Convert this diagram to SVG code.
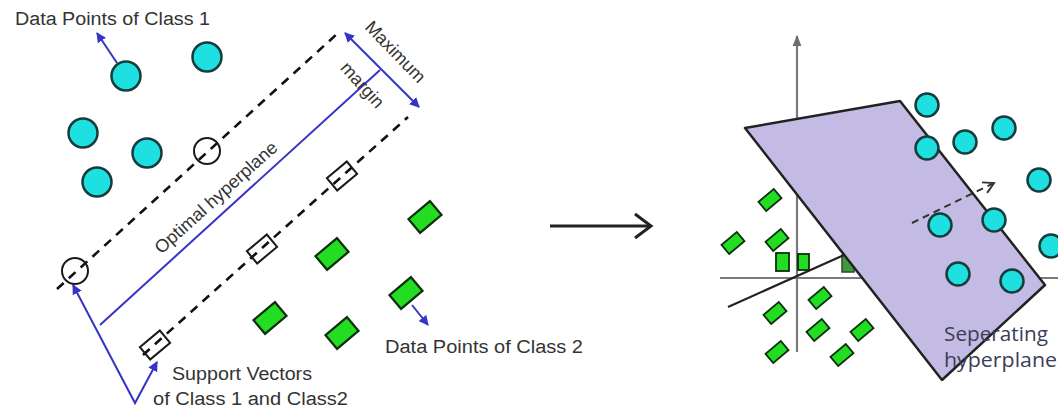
<svg xmlns="http://www.w3.org/2000/svg" width="1058" height="412" viewBox="0 0 1058 412">
<style>
.lbl{font-family:"Liberation Sans",Arial,sans-serif;fill:#333333;font-size:18px}
.c1{fill:#1fe0e0;stroke:#173c3c;stroke-width:2.5}
.sv{fill:none;stroke:#1a1a1a;stroke-width:2}
.g2{fill:#22dd22;stroke:#0c2e0c;stroke-width:2.2}
.g2s{fill:#22dd22;stroke:#0c2e0c;stroke-width:1.8}
.dash{stroke:#111;stroke-width:2.6;stroke-dasharray:9 7;fill:none}
.blue{stroke:#3434c6;stroke-width:2;fill:none}
.axis{stroke:#7a7a7a;stroke-width:2.2;fill:none}
.hp{font-family:"Open Sans","Noto Sans",sans-serif;font-size:20px;fill:#3c3c58}
</style>
<defs>
<marker id="ab" viewBox="0 0 10 10" refX="9" refY="5" markerWidth="5" markerHeight="5" orient="auto-start-reverse" markerUnits="strokeWidth">
<path d="M0,0 L10,5 L0,10 z" fill="#3434c6"/>
</marker>
<marker id="ag" viewBox="0 0 10 10" refX="9" refY="5" markerWidth="5" markerHeight="5" orient="auto" markerUnits="strokeWidth">
<path d="M0,1 L10,5 L0,9 z" fill="#6e6e6e"/>
</marker>
<marker id="ad" viewBox="0 0 12 12" refX="10" refY="6" markerWidth="7" markerHeight="7" orient="auto" markerUnits="strokeWidth">
<path d="M1,1 L10,6 L1,11" fill="none" stroke="#333" stroke-width="1.6"/>
</marker>
</defs>
<rect width="1058" height="412" fill="#ffffff"/>

<g id="connectors">
<line class="dash" x1="57" y1="289" x2="338" y2="33"/>
<line class="dash" x1="143" y1="355" x2="408" y2="117"/>
<line class="blue" x1="100" y1="325" x2="380" y2="70"/>
<line class="blue" x1="345" y1="33" x2="419" y2="107" marker-start="url(#ab)" marker-end="url(#ab)"/>
<line class="blue" x1="117" y1="63" x2="97" y2="33" marker-end="url(#ab)"/>
<line class="blue" x1="412" y1="305" x2="428" y2="325" marker-end="url(#ab)"/>
<polyline class="blue" points="73,285 135,403 157,362" marker-start="url(#ab)" marker-end="url(#ab)"/>
<line x1="550" y1="226" x2="650" y2="226" stroke="#222" stroke-width="3"/>
<polyline points="635,214 651,226 635,238" fill="none" stroke="#222" stroke-width="3"/>
</g>

<g id="class1-points">
<circle class="c1" cx="126" cy="76" r="14.5"/>
<circle class="c1" cx="207" cy="57" r="14.5"/>
<circle class="c1" cx="83" cy="133" r="14.5"/>
<circle class="c1" cx="147" cy="153" r="14.5"/>
<circle class="c1" cx="97" cy="182" r="14.5"/>
</g>
<g id="support-vectors">
<circle class="sv" cx="207" cy="151" r="13"/>
<circle class="sv" cx="75" cy="271" r="13"/>
<rect class="sv" x="-13" y="-8" width="26" height="16" transform="translate(342,176) rotate(-40)"/>
<rect class="sv" x="-13" y="-8" width="26" height="16" transform="translate(262,249) rotate(-40)"/>
<rect class="sv" x="-13" y="-8" width="26" height="16" transform="translate(155,345) rotate(-40)"/>
</g>
<g id="class2-points">
<rect class="g2" x="-14" y="-9" width="28" height="18" transform="translate(425,217) rotate(-40)"/>
<rect class="g2" x="-14" y="-9" width="28" height="18" transform="translate(332,254) rotate(-40)"/>
<rect class="g2" x="-14" y="-9" width="28" height="18" transform="translate(270,318) rotate(-40)"/>
<rect class="g2" x="-14" y="-9" width="28" height="18" transform="translate(342,333) rotate(-40)"/>
<rect class="g2" x="-14" y="-9" width="28" height="18" transform="translate(406,293) rotate(-40)"/>
</g>
<g id="left-labels">
<text class="lbl" x="15" y="25" textLength="195" lengthAdjust="spacingAndGlyphs">Data Points of Class 1</text>
<text class="lbl" x="385" y="353" textLength="198" lengthAdjust="spacingAndGlyphs">Data Points of Class 2</text>
<text class="lbl" x="172" y="380" textLength="140" lengthAdjust="spacingAndGlyphs">Support Vectors</text>
<text class="lbl" x="153" y="405" textLength="195" lengthAdjust="spacingAndGlyphs">of Class 1 and Class2</text>
<text class="lbl" font-size="17" text-anchor="middle" transform="translate(220,202) rotate(-42)" textLength="158" lengthAdjust="spacingAndGlyphs">Optimal hyperplane</text>
<text class="lbl" font-size="17" text-anchor="middle" transform="translate(391,56) rotate(46)">Maximum</text>
<text class="lbl" font-size="16" text-anchor="middle" transform="translate(358,89) rotate(48)">margin</text>
</g>

<g id="right-axes">
<line class="axis" x1="797" y1="352" x2="797" y2="36" marker-end="url(#ag)"/>
<line class="axis" x1="720" y1="278" x2="1058" y2="278"/>
</g>
<g id="right-class2">
<rect class="g2s" x="-10" y="-6" width="20" height="12" transform="translate(770,200) rotate(-40)"/>
<rect class="g2s" x="-10" y="-6" width="20" height="12" transform="translate(733,243) rotate(-40)"/>
<rect class="g2s" x="-10" y="-6" width="20" height="12" transform="translate(777,240) rotate(-40)"/>
<rect class="g2s" x="776" y="253" width="13" height="18"/>
<rect class="g2s" x="798" y="254" width="11" height="16"/>
<rect x="842" y="255" width="12" height="17" fill="#3f9a3f" stroke="#2a4a2a" stroke-width="1.5"/>
<rect class="g2s" x="-10" y="-6" width="20" height="12" transform="translate(820,298) rotate(-40)"/>
<rect class="g2s" x="-10" y="-6" width="20" height="12" transform="translate(775,313) rotate(-40)"/>
<rect class="g2s" x="-10" y="-6" width="20" height="12" transform="translate(818,330) rotate(-40)"/>
<rect class="g2s" x="-10" y="-6" width="20" height="12" transform="translate(862,330) rotate(-40)"/>
<rect class="g2s" x="-10" y="-6" width="20" height="12" transform="translate(777,352) rotate(-40)"/>
<rect class="g2s" x="-10" y="-6" width="20" height="12" transform="translate(842,355) rotate(-40)"/>
</g>
<g id="projection-line">
<line x1="728" y1="307" x2="844" y2="255" stroke="#222" stroke-width="2.2"/>
</g>
<g id="hyperplane">
<polygon points="745,128 900,101 1045,285 942,380" fill="#c4bbe5" stroke="#222" stroke-width="2.5" stroke-linejoin="round"/>
</g>
<g id="normal-arrow">
<line x1="912" y1="223" x2="994" y2="183" stroke="#333" stroke-width="2" stroke-dasharray="7 5" marker-end="url(#ad)"/>
</g>
<g id="right-class1">
<circle class="c1" cx="927" cy="105" r="11.5"/>
<circle class="c1" cx="965" cy="142" r="11.5"/>
<circle class="c1" cx="1004" cy="128" r="11.5"/>
<circle class="c1" cx="927" cy="148" r="11.5"/>
<circle class="c1" cx="1039" cy="180" r="11.5"/>
<circle class="c1" cx="940" cy="225" r="11.5"/>
<circle class="c1" cx="994" cy="220" r="11.5"/>
<circle class="c1" cx="1051" cy="246" r="11.5"/>
<circle class="c1" cx="958" cy="274" r="11.5"/>
<circle class="c1" cx="1012" cy="281" r="11.5"/>
</g>
<g id="hyperplane-label">
<text class="hp" x="944" y="341" textLength="104" lengthAdjust="spacingAndGlyphs">Seperating</text>
<text class="hp" x="944" y="367" textLength="113" lengthAdjust="spacingAndGlyphs">hyperplane</text>
</g>
</svg>
